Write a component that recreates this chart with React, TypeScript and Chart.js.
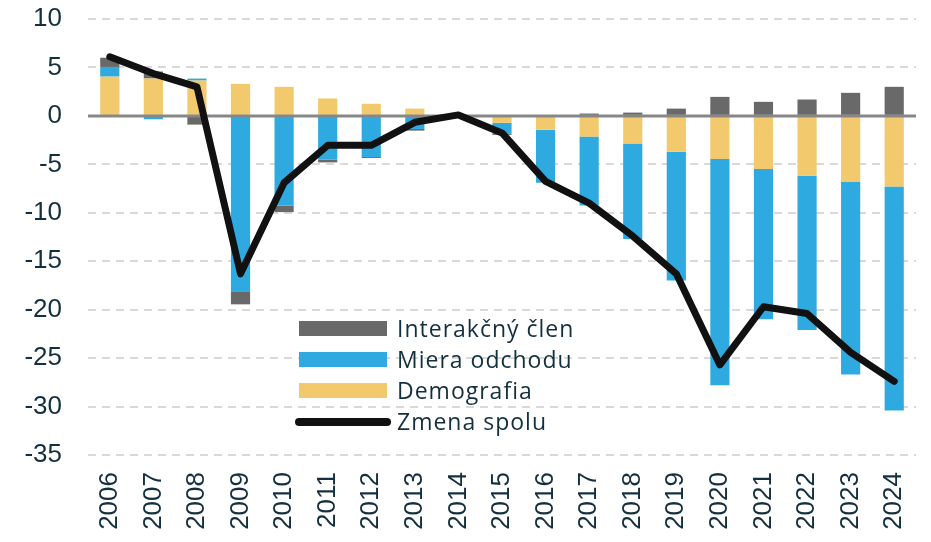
import { useEffect, useRef } from "react";
import { Chart, registerables } from "chart.js";

Chart.register(...registerables);

const years = [
  "2006", "2007", "2008", "2009", "2010", "2011", "2012", "2013", "2014", "2015",
  "2016", "2017", "2018", "2019", "2020", "2021", "2022", "2023", "2024",
];
const demografia = [
  4.05, 3.86, 3.65, 3.3, 3.0, 1.8, 1.25, 0.75, 0, -0.72,
  -1.42, -2.14, -2.86, -3.69, -4.45, -5.48, -6.17, -6.83, -7.3,
];
const mieraOdchodu = [
  1.0, -0.35, 0.2, -18.1, -9.28, -4.52, -4.24, -1.35, 0, -1.14,
  -5.48, -7.11, -9.84, -13.31, -23.35, -15.52, -15.93, -19.87, -23.1,
];
const interakcnyClen = [
  0.95, 0.72, -0.9, -1.35, -0.65, -0.28, -0.1, -0.17, 0, -0.1,
  0, 0.24, 0.34, 0.75, 1.96, 1.45, 1.69, 2.38, 3.0,
];
const zmenaSpolu = [
  6.1, 4.37, 3.0, -16.3, -6.9, -3.04, -3.04, -0.66, 0.1, -1.76,
  -6.76, -9.0, -12.4, -16.3, -25.7, -19.7, -20.4, -24.4, -27.4,
];

const GRAY = "#696969";
const BLUE = "#2faae0";
const YELLOW = "#f2c96d";
const TEXT = "#14303e";

// solid zero line over the bars, under the total line
const zeroLine = {
  id: "zeroLine",
  beforeDatasetDraw(chart: any, args: any) {
    if (args.meta.type !== "line") return;
    const { ctx, chartArea, scales } = chart;
    const y = scales.y.getPixelForValue(0);
    ctx.save();
    ctx.strokeStyle = "#878787";
    ctx.lineWidth = 3;
    ctx.beginPath();
    ctx.moveTo(chartArea.left, y);
    ctx.lineTo(chartArea.right, y);
    ctx.stroke();
    ctx.restore();
  },
};

const legendItems = [
  { label: "Interakčný člen", color: GRAY, line: false },
  { label: "Miera odchodu", color: BLUE, line: false },
  { label: "Demografia", color: YELLOW, line: false },
  { label: "Zmena spolu", color: "#111111", line: true },
];

export default function App() {
  const canvasRef = useRef<HTMLCanvasElement>(null);
  const chartRef = useRef<Chart | null>(null);

  useEffect(() => {
    if (!canvasRef.current) return;
    chartRef.current?.destroy();
    const barCommon = {
      type: "bar" as const,
      order: 1,
      barPercentage: 0.44,
      categoryPercentage: 1,
      borderWidth: 0,
    };
    chartRef.current = new Chart(canvasRef.current, {
      type: "bar",
      data: {
        labels: years,
        datasets: [
          { ...barCommon, label: "Demografia", data: demografia, backgroundColor: YELLOW },
          { ...barCommon, label: "Miera odchodu", data: mieraOdchodu, backgroundColor: BLUE },
          { ...barCommon, label: "Interakčný člen", data: interakcnyClen, backgroundColor: GRAY },
          {
            type: "line",
            order: 0,
            label: "Zmena spolu",
            data: zmenaSpolu,
            borderColor: "#111111",
            borderWidth: 7,
            pointRadius: 0,
            tension: 0,
            borderJoinStyle: "round",
            borderCapStyle: "round",
          } as any,
        ],
      },
      options: {
        responsive: true,
        maintainAspectRatio: false,
        animation: false,
        layout: { padding: { left: 24, right: 15, top: 19, bottom: 0 } },
        plugins: { legend: { display: false }, tooltip: { enabled: false } },
        scales: {
          x: {
            stacked: true,
            grid: { display: false },
            border: { display: false },
            afterFit: (s: any) => {
              s.height = 87;
              s.paddingLeft = 0;
              s.paddingRight = 0;
            },
            ticks: {
              color: TEXT,
              font: { family: "'Liberation Sans', Arial", size: 26 },
              minRotation: 90,
              maxRotation: 90,
              padding: 9,
              autoSkip: false,
            },
          },
          y: {
            stacked: true,
            min: -35,
            max: 10,
            border: { display: false, dash: [8, 6] },
            afterFit: (s: any) => {
              s.width = 64;
              s.paddingTop = 0;
              s.paddingBottom = 0;
            },
            grid: {
              drawTicks: false,
              lineWidth: 2,
              color: (c: any) => (c.tick && c.tick.value === 0 ? "transparent" : "#d9d9d9"),
            },
            ticks: {
              stepSize: 5,
              color: TEXT,
              padding: 26,
              font: { family: "'Liberation Sans', Arial", size: 26 },
            },
          },
        },
      },
      plugins: [zeroLine],
    });
    return () => chartRef.current?.destroy();
  }, []);

  return (
    <div style={{ position: "absolute", left: 0, top: 0, width: 931, height: 542, background: "#fff" }}>
      <canvas ref={canvasRef} />
      <div
        style={{
          position: "absolute",
          left: 295,
          top: 313,
          fontFamily: "'Open Sans', sans-serif",
          fontSize: 23,
          letterSpacing: 1,
          color: TEXT,
        }}
      >
        {legendItems.map((it) => (
          <div key={it.label} style={{ display: "flex", alignItems: "center", height: 31 }}>
            <span style={{ width: 96, display: "flex", justifyContent: "center" }}>
              <span
                style={{
                  display: "block",
                  width: it.line ? 96 : 88,
                  height: it.line ? 8 : 15,
                  borderRadius: it.line ? 4 : 0,
                  background: it.color,
                }}
              />
            </span>
            <span style={{ marginLeft: 6, lineHeight: "31px", whiteSpace: "nowrap" }}>{it.label}</span>
          </div>
        ))}
      </div>
    </div>
  );
}
